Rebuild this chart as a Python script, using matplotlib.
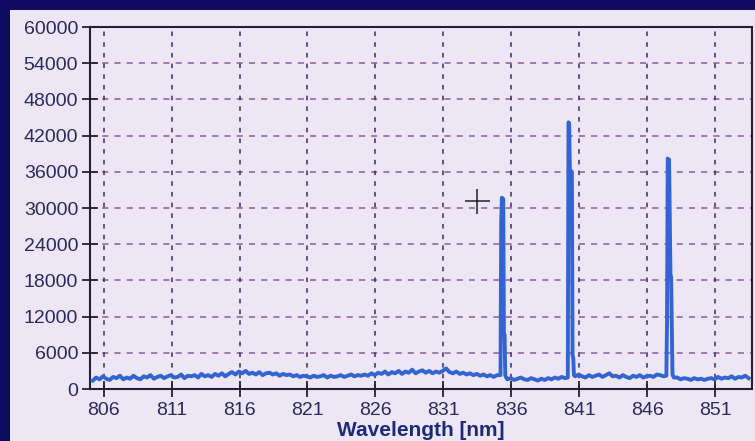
import matplotlib.pyplot as plt
import numpy as np
from matplotlib.patches import Rectangle

# baseline samples, 0.25 nm apart starting at 805.2 nm
base_start = 805.2
base_step = 0.25
base_counts = [
    1400, 1900, 1600, 2100, 1700, 1500, 2000, 1800, 2200, 1600, 1900, 1700, 2200, 1800, 1600, 2100, 1900, 2300, 1700, 2000,
    2200, 1800, 2100, 2300, 1900, 2000, 2400, 1800, 2200, 2100, 2300, 1900, 2500, 2100, 2300, 2000, 2500, 2200, 2600, 2100,
    2500, 2800, 2400, 2900, 2600, 3000, 2500, 2700, 2400, 2800, 2300, 2600, 2700, 2400, 2600, 2200, 2500, 2300, 2400, 2100,
    2300, 2000, 2200, 2100, 1900, 2200, 2000, 2100, 2300, 1900, 2200, 2000, 2100, 2300, 2000, 2200, 2400, 2100, 2300, 2200,
    2400, 2200, 2600, 2300, 2700, 2500, 2900, 2400, 2800, 2600, 3000, 2500, 2900, 2700, 3200, 2600, 2900, 3100, 2700, 3000,
    2600, 2900, 2700, 3000, 3400, 2800, 2600, 2900, 2500, 2700, 2400, 2600, 2300, 2500, 2200, 2400, 2100, 2300, 2000, 2300,
    1900, 1700, 1600, 1800, 1500, 1700, 1900, 1600, 1500, 1800, 1600, 1400, 1700, 1500, 1800, 1600, 1900, 1700, 2000, 1800,
    1800, 2200, 2000, 2400, 2100, 1900, 2300, 2000, 2200, 2400, 2000, 2300, 2600, 2100, 2200, 1900, 2300, 2000, 1800, 2200,
    2000, 2300, 1900, 2100, 2200, 2000, 2400, 2300, 2100, 2000, 1800, 1700, 1900, 1600, 1800, 1700, 1500, 1800, 1600, 1700,
    1500, 1700, 1800, 1600, 2000, 1700, 1900, 1800, 2100, 1700, 2000, 1900, 2200, 1800,
]

# emission lines
peak1_wl = [835.2, 835.25, 835.3, 835.4, 835.45, 835.5, 835.55, 835.65]
peak1_ct = [2300, 27500, 31700, 31500, 9200, 9000, 2200, 1800]
peak2_wl = [840.15, 840.2, 840.25, 840.3, 840.45, 840.5, 840.55, 840.6, 840.7]
peak2_ct = [1900, 44200, 44000, 36300, 36000, 5500, 5200, 2300, 2100]
peak3_wl = [847.4, 847.45, 847.5, 847.6, 847.7, 847.75, 847.85, 847.95]
peak3_ct = [2200, 11500, 38200, 38000, 19000, 18500, 2400, 1900]

cursor_wl = 833.5
cursor_ct = 31200

x_ticks = [806, 811, 816, 821, 826, 831, 836, 841, 846, 851]
y_ticks = list(range(0, 60001, 6000))

navy = "#0d0c62"
panel = "#ede7f5"
line_col = "#3464d2"
text_col = "#2a2a5c"

base_wl = base_start + base_step * np.arange(len(base_counts))
base_ct = np.array(base_counts, dtype=float)
keep = np.ones(len(base_wl), dtype=bool)
for pw in (peak1_wl, peak2_wl, peak3_wl):
    keep &= ~((base_wl >= pw[0]) & (base_wl <= pw[-1]))
wl = np.concatenate([base_wl[keep], peak1_wl, peak2_wl, peak3_wl])
ct = np.concatenate([base_ct[keep], peak1_ct, peak2_ct, peak3_ct])
order = np.argsort(wl)
wl, ct = wl[order], ct[order]

fig = plt.figure(figsize=(7.55, 4.41), dpi=100)
fig.patch.set_facecolor(navy)
fig.patches.append(Rectangle((10 / 755, 0), 1, 1 - 10 / 441, transform=fig.transFigure,
                             facecolor=panel, edgecolor="none", zorder=-5))

ax = fig.add_axes([90 / 755, 52 / 441, 662 / 755, 362 / 441])
ax.set_zorder(2)
ax.set_facecolor(panel)
ax.plot(wl, ct, color=line_col, lw=2.8, zorder=3)
ax.plot([cursor_wl], [cursor_ct], marker="+", color="#222222", markersize=18,
        markeredgewidth=1.1, zorder=4)

ax.set_xlim(805.0, 853.7)
ax.set_ylim(0, 60000)
ax.set_xticks(x_ticks)
ax.set_yticks(y_ticks)
ax.tick_params(direction="inout", length=11, width=1.3, colors="#222233",
               labelsize=14, labelcolor=text_col)
ax.tick_params(axis="x", pad=4)
ax.tick_params(axis="y", pad=3)
for lab in ax.get_xticklabels() + ax.get_yticklabels():
    lab.set_family("Liberation Sans")

for y in y_ticks[1:-1]:
    ax.axhline(y, color="#8a5c9e", lw=1.1, ls=(0, (4, 4)), zorder=1)
for x in x_ticks:
    ax.axvline(x, color="#3c2c5e", lw=1.1, ls=(0, (3, 4)), zorder=1)

for s in ax.spines.values():
    s.set_color("#222233")
    s.set_linewidth(1.5)

ax.set_xlabel("Wavelength [nm]", fontsize=15, fontweight="bold", color="#1c2a7a",
              family="Liberation Sans", labelpad=1)

fig.savefig("out.png", dpi=100, facecolor=fig.get_facecolor())
